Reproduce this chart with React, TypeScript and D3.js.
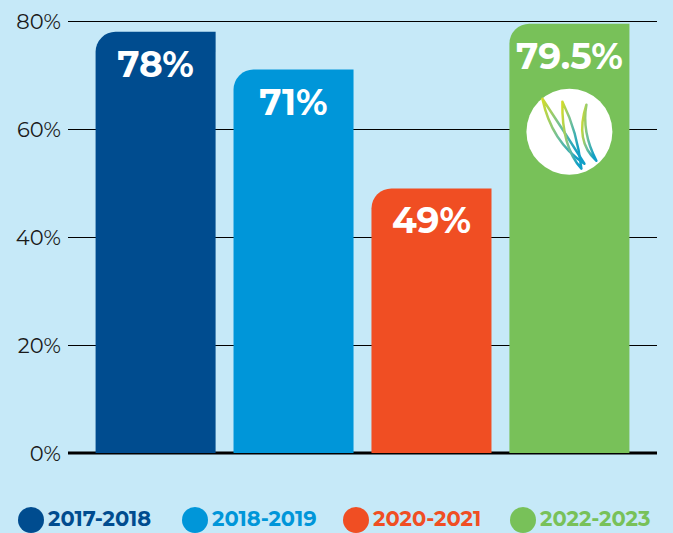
import React from "react";
import * as d3 from "d3";

const categories = ["2017-2018", "2018-2019", "2020-2021", "2022-2023"];
const values = [78, 71, 49, 79.5];
const valueLabels = ["78%", "71%", "49%", "79.5%"];
const colors = ["#004c8f", "#0096d9", "#f04e23", "#78c159"];
const yTicks = [0, 20, 40, 60, 80];

const W = 673;
const H = 533;
const FONT = "Montserrat, 'Open Sans', sans-serif";

export default function App() {
  const x = d3.scaleBand<string>().domain(categories).range([68, 657]).paddingInner(0.13).paddingOuter(0.2);
  const y = d3.scaleLinear().domain([0, 80]).range([453, 21]);
  const r = 20;
  const barPath = (c: string, v: number) => {
    const x0 = x(c)!;
    const x1 = x0 + x.bandwidth();
    const y0 = y(v);
    const yb = y(0);
    const p = d3.path();
    p.moveTo(x0, yb);
    p.lineTo(x0, y0 + r);
    p.arcTo(x0, y0, x0 + r, y0, r);
    p.lineTo(x1, y0);
    p.lineTo(x1, yb);
    p.closePath();
    return p.toString();
  };
  const legendX = [31, 195, 356, 523];
  const last = categories[3];
  const cx = x(last)! + x.bandwidth() / 2;
  const cy = y(values[3]) + 108;
  return (
    <svg width={W} height={H} style={{ position: "absolute", left: 0, top: 0 }}>
      <defs>
        <linearGradient id="lg" x1="0" y1="0" x2="1" y2="0.3">
          <stop offset="0" stopColor="#d2dc2a" />
          <stop offset="0.5" stopColor="#6fbf9a" />
          <stop offset="1" stopColor="#109fc7" />
        </linearGradient>
      </defs>
      <rect width={W} height={H} fill="#c6e9f8" />
      {yTicks.map((t) => (
        <g key={t}>
          <line
            x1={68}
            x2={657}
            y1={Math.round(y(t)) + (t === 0 ? 0 : 0.5)}
            y2={Math.round(y(t)) + (t === 0 ? 0 : 0.5)}
            stroke="#000"
            strokeWidth={t === 0 ? 3 : 1}
          />
          <text x={61} y={y(t)} dy="0.36em" textAnchor="end" fontFamily={FONT} fontSize={21} fill="#1a1a1a">
            {t}%
          </text>
        </g>
      ))}
      {categories.map((c, i) => (
        <g key={c}>
          <path d={barPath(c, values[i])} fill={colors[i]} />
          <text
            x={x(c)! + x.bandwidth() / 2}
            y={y(values[i]) + 45}
            textAnchor="middle"
            fontFamily={FONT}
            fontWeight={700}
            fontSize={36}
            fill="#fff"
          >
            {valueLabels[i]}
          </text>
        </g>
      ))}
      <g>
        <circle cx={cx} cy={cy} r={43} fill="#fff" />
        <g fill="none" stroke="url(#lg)" strokeWidth={2.5} strokeLinejoin="round" strokeLinecap="round">
          <path d={`M${cx - 27},${cy - 33} Q${cx - 18},${cy + 10} ${cx + 15},${cy + 32} Q${cx - 5},${cy} ${cx - 27},${cy - 33}`} />
          <path d={`M${cx - 7},${cy - 30} Q${cx - 8},${cy + 15} ${cx + 12},${cy + 37} Q${cx + 8},${cy} ${cx - 7},${cy - 30}`} />
          <path d={`M${cx + 17},${cy - 27} Q${cx + 5},${cy + 10} ${cx + 27},${cy + 29} Q${cx + 12},${cy} ${cx + 17},${cy - 27}`} />
        </g>
      </g>
      {categories.map((c, i) => (
        <g key={"lg" + c}>
          <circle cx={legendX[i]} cy={520} r={13} fill={colors[i]} />
          <text x={legendX[i] + 17} y={526} fontFamily={FONT} fontWeight={700} fontSize={21} fill={colors[i]}>
            {c}
          </text>
        </g>
      ))}
    </svg>
  );
}
